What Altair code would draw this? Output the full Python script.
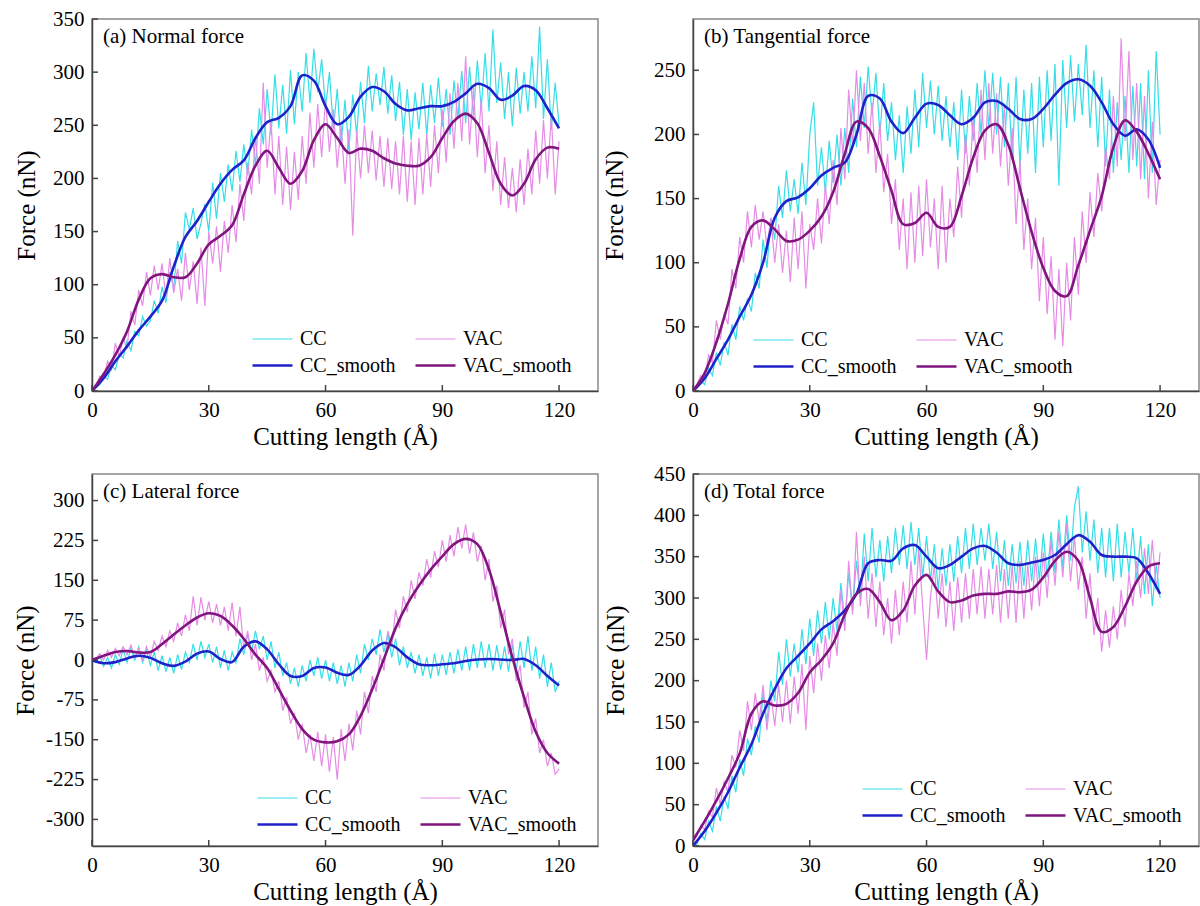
import altair as alt
import pandas as pd

FONT = "Liberation Serif"
SERIES = ["CC", "VAC", "CC_smooth", "VAC_smooth"]
LEGEND_ORDER = ["CC", "CC_smooth", "VAC", "VAC_smooth"]
COLORS = ["#36DEE8", "#E68CE6", "#1F22C8", "#80157E"]
WIDTHS = [1.2, 1.2, 2.6, 2.6]

X_NOISY = list(range(0, 121))
X_SMOOTH = list(range(0, 121, 3))
X_TICKS = [0, 30, 60, 90, 120]

# ---- (a) Normal force ----
A_CC = [0, 3, 6, 14, 11, 24, 20, 35, 31, 47,
        38, 56, 52, 70, 61, 66, 85, 73, 98, 83,
        112, 96, 141, 120, 168, 152, 172, 143, 158, 176,
        150, 196, 162, 205, 178, 213, 188, 226, 197, 232,
        203, 246, 212, 266, 232, 284, 241, 298, 247, 288,
        242, 302, 251, 300, 263, 318, 271, 322, 281, 312,
        266, 300, 246, 284, 231, 274, 226, 279, 241, 291,
        252, 306, 263, 299, 269, 305, 261, 297, 254, 291,
        241, 284, 236, 281, 246, 290, 241, 288, 252, 295,
        249, 284, 241, 292, 256, 301, 252, 305, 259, 311,
        266, 318, 263, 340, 271, 309, 256, 300, 249, 304,
        261, 300, 263, 315, 266, 343, 256, 312, 246, 290,
        250]
A_VAC = [0, 4, 14, 12, 28, 20, 45, 32, 50, 40,
         75, 62, 95, 80, 112, 90, 118, 95, 120, 88,
         125, 92, 115, 85, 130, 95, 122, 82, 135, 80,
         150, 120, 155, 112, 160, 130, 175, 140, 195, 160,
         215, 185, 240, 195, 290, 210, 255, 185, 240, 175,
         230, 170, 225, 180, 240, 195, 262, 210, 270, 220,
         275, 225, 265, 210, 250, 195, 246, 146, 245, 200,
         250, 205, 245, 198, 240, 192, 238, 190, 235, 185,
         240, 178, 235, 175, 238, 185, 242, 192, 250, 205,
         265, 215, 280, 228, 290, 235, 315, 232, 285, 220,
         275, 205, 250, 188, 235, 175, 220, 172, 210, 168,
         218, 175, 228, 185, 245, 195, 255, 200, 260, 185,
         235]
A_CC_SMOOTH = [0, 12, 28, 42, 57, 70, 85, 117, 145, 160,
               178, 195, 208, 217, 238, 253, 257, 268, 297, 292,
               268, 251, 258, 277, 286, 282, 270, 264, 266, 268,
               268, 272, 280, 289, 285, 274, 278, 287, 283, 266,
               247]
A_VAC_SMOOTH = [0, 16, 34, 56, 86, 106, 110, 107, 107, 120,
                138, 146, 156, 185, 212, 226, 210, 195, 207, 236,
                251, 238, 224, 228, 226, 219, 214, 212, 212, 220,
                238, 254, 261, 252, 224, 195, 184, 195, 218, 229,
                228]
A_YTICKS = [0, 50, 100, 150, 200, 250, 300, 350]

# ---- (b) Tangential force ----
B_CC = [0, 2, 8, 5, 18, 12, 30, 20, 38, 28,
        52, 40, 66, 55, 72, 62, 92, 80, 118, 96,
        135, 118, 160, 135, 172, 140, 165, 138, 178, 145,
        200, 225, 160, 190, 155, 195, 162, 200, 160, 205,
        170, 228, 190, 245, 205, 253, 215, 248, 200, 240,
        195, 225, 180, 215, 170, 222, 185, 235, 190, 248,
        205, 242, 200, 238, 195, 230, 190, 225, 180, 235,
        185, 230, 195, 240, 200, 250, 205, 248, 200, 245,
        190, 240, 180, 245, 175, 235, 185, 240, 170, 245,
        190, 250, 195, 255, 160, 258, 205, 262, 210, 255,
        215, 270, 205, 250, 190, 245, 175, 235, 170, 225,
        180, 230, 170, 238, 175, 240, 165, 250, 170, 265,
        200]
B_VAC = [0, 5, 12, 10, 28, 22, 55, 40, 60, 52,
         95, 80, 120, 100, 140, 112, 145, 118, 140, 112,
         135, 100, 130, 92, 125, 85, 135, 95, 140, 80,
         130, 110, 150, 115, 160, 130, 180, 145, 205, 165,
         235, 190, 250, 195, 240, 185, 225, 170, 210, 155,
         185, 130, 165, 110, 150, 95, 155, 100, 160, 105,
         165, 112, 150, 95, 160, 100, 150, 120, 175, 135,
         200, 160, 215, 170, 235, 180, 240, 185, 232, 175,
         222, 160, 205, 130, 180, 110, 150, 95, 135, 70,
         120, 60, 105, 40, 95, 35, 100, 55, 120, 75,
         140, 100, 155, 120, 170, 140, 190, 165, 230, 175,
         275, 195, 265, 180, 240, 165, 230, 150, 210, 145,
         180]
B_CC_SMOOTH = [0, 10, 25, 40, 58, 75, 100, 135, 148, 151,
               158, 168, 174, 178, 200, 230, 228, 210, 201, 213,
               224, 223, 215, 208, 213, 225, 226, 220, 212, 212,
               220, 231, 240, 243, 238, 225, 208, 199, 204, 196,
               174]
B_VAC_SMOOTH = [0, 14, 38, 68, 103, 128, 133, 126, 117, 118,
                125, 136, 155, 185, 210, 205, 183, 156, 130, 131,
                139, 128, 128, 152, 182, 203, 208, 192, 158, 124,
                96, 78, 74, 98, 125, 152, 190, 211, 202, 185,
                165]
B_YTICKS = [0, 50, 100, 150, 200, 250]

# ---- (c) Lateral force ----
C_CC = [0, -5, 8, -12, 5, -15, 10, -8, 20, -5,
        22, 0, 25, -5, 18, -10, 15, -20, 8, -22,
        5, -25, 10, -18, 15, -5, 30, 0, 35, 5,
        30, -5, 25, -15, 18, -20, 15, -5, 40, 10,
        48, 15, 55, 20, 45, 0, 35, -15, 15, -30,
        -5, -45, -15, -50, -10, -40, 0, -30, 5, -35,
        0, -40, -5, -45, -10, -50, -5, -40, 10, -25,
        30, 0, 40, 10, 57, 15, 50, 5, 40, -10,
        25, -15, 15, -25, 10, -30, 5, -35, 12, -30,
        10, -28, 15, -25, 20, -20, 25, -20, 30, -15,
        35, -15, 30, -20, 28, -18, 25, -22, 30, -20,
        35, -15, 45, -20, 25, -35, 10, -50, -5, -60,
        -40]
C_VAC = [0, 2, 12, 0, 18, 5, 22, 8, 25, 10,
         28, 5, 22, 0, 25, 5, 35, 18, 45, 25,
         55, 35, 70, 45, 85, 55, 120, 65, 118, 75,
         110, 70, 105, 65, 100, 55, 108, 45, 100, 20,
         55, 0, 30, -20, 5, -40, -20, -60, -40, -95,
         -70, -120, -100, -150, -120, -175, -140, -190, -135, -200,
         -140, -210, -145, -225, -130, -190, -120, -170, -95, -140,
         -60, -100, -30, -60, 10, -20, 55, 25, 95, 60,
         120, 90, 150, 115, 165, 140, 190, 155, 205, 175,
         225, 185, 235, 195, 250, 210, 255, 200, 240, 185,
         215, 150, 190, 110, 140, 60, 95, 10, 40, -40,
         -10, -90, -60, -140, -110, -175, -150, -200, -175, -215,
         -205]
C_CC_SMOOTH = [0, -6, -4, 3, 8, 4, -6, -11, -3, 12,
               16, 2, -4, 25, 35, 20, -8, -30, -30, -15,
               -14, -24, -28, -10, 18, 32, 24, 5, -8, -10,
               -8, -6, -2, 1, 2, 1, 0, 2, -10, -30,
               -48]
C_VAC_SMOOTH = [0, 8, 15, 17, 14, 15, 30, 48, 65, 80,
                88, 83, 65, 40, 10, -15, -55, -95, -130, -150,
                -155, -153, -140, -105, -55, 2, 60, 105, 140, 170,
                195, 218, 228, 218, 170, 90, 5, -70, -135, -175,
                -195]
C_YTICKS = [-300, -225, -150, -75, 0, 75, 150, 225, 300]

# ---- (d) Total force ----
D_CC = [0, 2, 15, 8, 30, 18, 48, 30, 60, 45,
        85, 65, 105, 85, 130, 110, 145, 125, 185, 150,
        200, 175, 235, 195, 250, 205, 245, 210, 262, 220,
        275, 230, 285, 245, 295, 250, 300, 260, 318, 270,
        330, 285, 345, 300, 378, 320, 385, 325, 370, 320,
        375, 330, 385, 340, 388, 335, 392, 340, 385, 325,
        375, 320, 365, 310, 360, 315, 365, 320, 375, 330,
        385, 335, 390, 340, 385, 345, 390, 335, 380, 320,
        370, 315, 365, 318, 368, 315, 370, 320, 372, 322,
        378, 325, 380, 330, 395, 335, 400, 345, 410, 435,
        355, 405, 345, 395, 330, 385, 325, 385, 320, 390,
        325, 380, 330, 385, 320, 375, 305, 365, 290, 340,
        300]
D_VAC = [5, 12, 25, 20, 42, 35, 70, 50, 78, 65,
         110, 95, 140, 115, 175, 140, 185, 150, 195, 140,
         185, 145, 195, 150, 200, 148, 205, 160, 220, 140,
         230, 185, 245, 200, 255, 215, 270, 230, 310, 260,
         345, 280, 380, 290, 350, 275, 330, 265, 320, 255,
         300, 245, 310, 255, 320, 270, 345, 280, 360, 290,
         225, 300, 340, 275, 330, 265, 320, 260, 325, 270,
         330, 275, 335, 280, 338, 275, 335, 280, 340, 270,
         335, 275, 340, 270, 345, 275, 340, 285, 350, 290,
         355, 300, 370, 315, 380, 325, 390, 320, 375, 310,
         350, 275, 330, 255, 300, 235, 285, 240, 290, 250,
         310, 265, 330, 290, 345, 300, 360, 305, 370, 310,
         355]
D_CC_SMOOTH = [0, 18, 40, 65, 95, 123, 160, 190, 215, 230,
               245, 262, 272, 285, 305, 342, 346, 345, 360, 364,
               350, 336, 340, 350, 360, 363, 355, 342, 340, 343,
               346, 352, 365, 376, 368, 352, 350, 350, 348, 330,
               305]
D_VAC_SMOOTH = [7, 30, 55, 82, 112, 160, 175, 170, 172, 185,
                210, 225, 245, 280, 305, 311, 295, 273, 285, 315,
                328, 308, 295, 297, 303, 305, 305, 308, 307, 310,
                325, 345, 356, 345, 300, 259, 265, 290, 320, 338,
                342]
D_YTICKS = [0, 50, 100, 150, 200, 250, 300, 350, 400, 450]

W, H = 506, 372


def panel(label, cc, vac, ccs, vacs, ydom, yticks, lx, ly, tpad):
    noisy = pd.DataFrame({
        "x": X_NOISY + X_NOISY,
        "y": cc + vac,
        "s": ["CC"] * len(cc) + ["VAC"] * len(vac),
    })
    smooth = pd.DataFrame({
        "x": X_SMOOTH + X_SMOOTH,
        "y": ccs + vacs,
        "s": ["CC_smooth"] * len(ccs) + ["VAC_smooth"] * len(vacs),
    })
    xenc = alt.X("x:Q", scale=alt.Scale(domain=[0, 130], nice=False, zero=False),
                 axis=alt.Axis(values=X_TICKS, title="Cutting length (Å)",
                               titlePadding=4))
    yenc = alt.Y("y:Q", scale=alt.Scale(domain=ydom, nice=False, zero=False),
                 axis=alt.Axis(values=yticks, title="Force (nN)",
                               labelExpr="toString(datum.value)",
                               titlePadding=tpad))
    legend = alt.Legend(title=None, orient="none", legendX=lx, legendY=ly,
                        columns=2, symbolType="M-2,0H2", symbolSize=400,
                        values=LEGEND_ORDER,
                        labelFont=FONT, labelFontSize=20, labelColor="black",
                        columnPadding=14, rowPadding=5, labelOffset=16,
                        padding=0)
    color = alt.Color("s:N", scale=alt.Scale(domain=SERIES, range=COLORS),
                      legend=legend)
    sw = alt.StrokeWidth("s:N", scale=alt.Scale(type="ordinal", domain=SERIES,
                                                range=WIDTHS),
                         legend=legend)
    noisy_l = alt.Chart(noisy).mark_line(clip=True).encode(
        x=xenc, y=yenc, color=color, strokeWidth=sw)
    smooth_l = alt.Chart(smooth).mark_line(clip=True, interpolate="catmull-rom").encode(
        x=xenc, y=yenc, color=color, strokeWidth=sw)
    xt = alt.Chart(pd.DataFrame({"x": X_TICKS})).mark_rule(
        color="#444", strokeWidth=1.5).encode(
        x=xenc, y=alt.value(H), y2=alt.value(H - 6))
    yt = alt.Chart(pd.DataFrame({"y": yticks})).mark_rule(
        color="#444", strokeWidth=1.5).encode(
        y=yenc, x=alt.value(0), x2=alt.value(6))
    lab = alt.Chart(pd.DataFrame({"t": [label]})).mark_text(
        align="left", baseline="alphabetic", font=FONT, fontSize=21,
        color="black").encode(text="t:N", x=alt.value(11), y=alt.value(24))
    return alt.layer(noisy_l, smooth_l, xt, yt, lab).properties(width=W, height=H)


pa = panel("(a) Normal force", A_CC, A_VAC, A_CC_SMOOTH, A_VAC_SMOOTH,
           [0, 350], A_YTICKS, 169, 309, 13)
pb = panel("(b) Tangential force", B_CC, B_VAC, B_CC_SMOOTH, B_VAC_SMOOTH,
           [0, 290], B_YTICKS, 69, 310, 26)
pc = panel("(c) Lateral force", C_CC, C_VAC, C_CC_SMOOTH, C_VAC_SMOOTH,
           [-350, 350], C_YTICKS, 174, 313, 7)
pd_ = panel("(d) Total force", D_CC, D_VAC, D_CC_SMOOTH, D_VAC_SMOOTH,
            [0, 450], D_YTICKS, 178, 304, 25)

chart = alt.concat(pa, pb, pc, pd_, columns=2,
                   spacing={"row": 83, "column": 95}, bounds="flush").resolve_scale(
    x="independent", y="independent", color="independent",
    strokeWidth="independent")

chart = chart.properties(
    padding={"left": 12, "top": 7, "right": 0, "bottom": 0}
).configure_view(
    stroke="#888", strokeWidth=1.5
).configure_axis(
    labelFont=FONT, titleFont=FONT, labelFontSize=21, titleFontSize=25,
    titleFontWeight="normal", labelColor="black", titleColor="black",
    grid=False, tickSize=0, domainColor="#444", domainWidth=1.5,
    labelPadding=8, labelFlush=False, labelOverlap=False
)

chart.save("out.html", embed_options={"renderer": "svg", "actions": False})
